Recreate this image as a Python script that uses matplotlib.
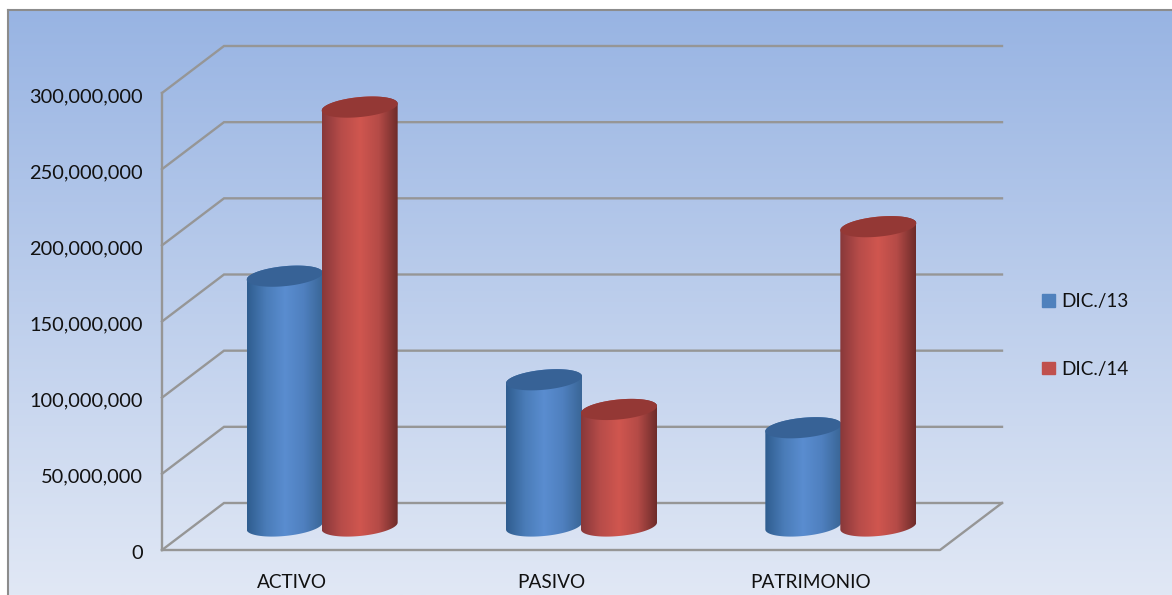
import numpy as np
import matplotlib
matplotlib.use('Agg')
import matplotlib.pyplot as plt
from matplotlib.colors import LinearSegmentedColormap
from matplotlib.patches import Patch, PathPatch, Polygon
from matplotlib.path import Path
from matplotlib.transforms import ScaledTranslation

categories = ['ACTIVO', 'PASIVO', 'PATRIMONIO']
dic_13 = [164000000, 96000000, 64500000]
dic_14 = [275000000, 76500000, 196500000]
y_ticks = [0, 50000000, 100000000, 150000000, 200000000, 250000000, 300000000]
series_names = ['DIC./13', 'DIC./14']

W, H = 1172, 595
plt.rcParams['font.family'] = ['Lato', 'DejaVu Sans']

fig = plt.figure(figsize=(W / 100, H / 100), dpi=100, facecolor='white')

# background panel with the gray frame
bg = fig.add_axes([8 / W, 0, (W - 8) / W, (H - 10) / H])
grad = np.linspace(0, 1, 256).reshape(-1, 1)
bg_cmap = LinearSegmentedColormap.from_list('bg', ['#98b4e3', '#e1e8f5'])
bg.imshow(grad, cmap=bg_cmap, aspect='auto')
bg.set_xticks([])
bg.set_yticks([])
for s in ['right', 'bottom']:
    bg.spines[s].set_visible(False)
for s in ['left', 'top']:
    bg.spines[s].set_color('#8c8c8c')
    bg.spines[s].set_linewidth(1.5)

# main axes = front plane of the 3d box
ax = fig.add_axes([162 / W, (H - 550) / H, 778 / W, 457 / H])
ax.patch.set_visible(False)
ax.set_xlim(-0.5, 2.5)
ax.set_ylim(0, 300000000)
px_x = 3 / 778
px_y = 300000000 / 457

# depth of the box
depth_x = 62 * px_x
depth_y = 47 * px_y
grid_c = '#969696'
for t in y_ticks:
    ax.plot([-0.5, -0.5 + depth_x, 2.5 + depth_x], [t, t + depth_y, t + depth_y],
            color=grid_c, lw=1.7, clip_on=False, zorder=1, solid_joinstyle='miter')
ax.plot([-0.5, -0.5], [0, 300000000], color=grid_c, lw=1.7, clip_on=False, zorder=1)
ax.plot([-0.5, 2.5, 2.5 + depth_x], [0, 0, depth_y], color=grid_c, lw=1.7, clip_on=False, zorder=1)

for s in ax.spines.values():
    s.set_visible(False)
ax.set_yticks(y_ticks)
ax.set_yticklabels([f'{t:,}' for t in y_ticks])
ax.set_xticks(range(len(categories)))
ax.set_xticklabels(categories)
ax.tick_params(axis='y', length=0, pad=14, labelsize=14.4, labelcolor='#111111')
ax.tick_params(axis='x', length=0, pad=17, labelsize=13.7, labelcolor='#111111')
# labels sit a little under their gridline in the reference
for lab in ax.get_yticklabels():
    lab.set_transform(lab.get_transform() + ScaledTranslation(0, -2 / 100, fig.dpi_scale_trans))

blue_cmap = LinearSegmentedColormap.from_list('b', ['#2f5d8f', '#4a7cb8', '#5a8dd0', '#4f80bf', '#3a6697'])
red_cmap = LinearSegmentedColormap.from_list('r', ['#88383a', '#b74c49', '#d0564f', '#b54b47', '#6e2c2a'])
bar_w = 38 * px_x
ell_b = 10 * px_y
ell_s = 3.5 * px_y
base = 24 * px_y
shift = 31 * px_x


def cylinder(x, value, cmap, cap, z):
    cx = x + shift
    top = base + value
    t1 = np.linspace(np.pi, 2 * np.pi, 50)
    xs = cx + bar_w * np.cos(t1)
    ys = base + ell_b * np.sin(t1) + ell_s * np.cos(t1)
    t2 = np.linspace(0, np.pi, 50)
    xs2 = cx + bar_w * np.cos(t2)
    ys2 = top + ell_b * np.sin(t2) + ell_s * np.cos(t2)
    verts = np.column_stack([np.r_[xs, xs2], np.r_[ys, ys2]])
    clip = PathPatch(Path(np.vstack([verts, verts[0]])), transform=ax.transData, fc='none', ec='none')
    ax.add_patch(clip)
    im = ax.imshow(np.linspace(0, 1, 128).reshape(1, -1), cmap=cmap, aspect='auto',
                   extent=[cx - bar_w, cx + bar_w, 0, top + ell_b * 2], zorder=z)
    im.set_clip_path(clip)
    t3 = np.linspace(0, 2 * np.pi, 100)
    ax.add_patch(Polygon(np.column_stack([cx + bar_w * np.cos(t3),
                                          top + ell_b * np.sin(t3) + ell_s * np.cos(t3)]),
                         fc=cap, ec='none', zorder=z + 0.1))


for i in range(len(categories)):
    cylinder(i - bar_w, dic_13[i], blue_cmap, '#376296', 3)
    cylinder(i + bar_w - 1 * px_x, dic_14[i], red_cmap, '#943835', 4)
ax.set_xlim(-0.5, 2.5)
ax.set_ylim(0, 300000000)

handles = [Patch(color='#4f81bd', label=series_names[0]), Patch(color='#c0504d', label=series_names[1])]
fig.legend(handles=handles, loc='center left', bbox_to_anchor=(1033 / W, (H - 335.5) / H), frameon=False,
           fontsize=13.6, labelspacing=2.68, handlelength=0.65, handleheight=0.65, handletextpad=0.35,
           borderpad=0, labelcolor='#111111')

fig.savefig('out.png', dpi=100)
